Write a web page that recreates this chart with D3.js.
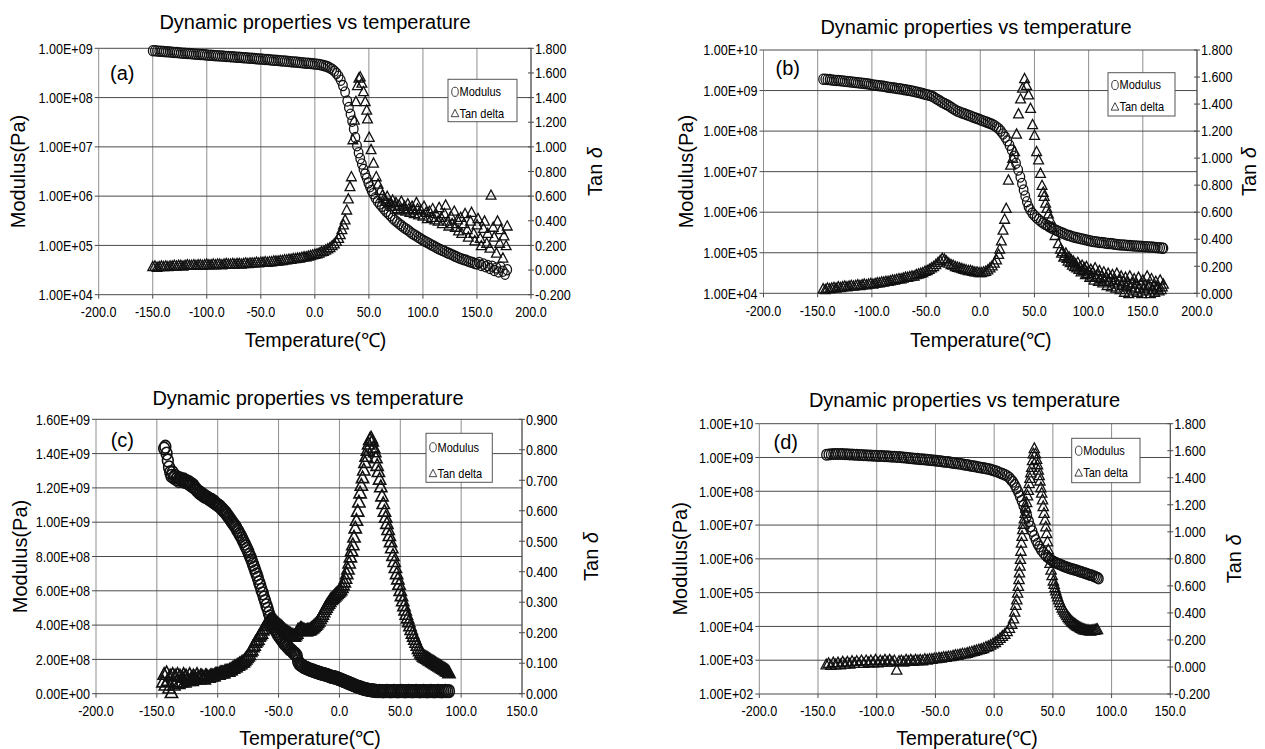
<!DOCTYPE html>
<html>
<head>
<meta charset="utf-8">
<script src="https://cdn.jsdelivr.net/npm/d3@7"></script>
<style>
  body { margin: 0; background: #fff; }
  svg text { font-family: "Liberation Sans", Arial, sans-serif; fill: #000; }
</style>
</head>
<body>
<svg id="fig" width="1265" height="749"></svg>
<script>
// ---------- tick values ----------
const tempTicksWide = [-200, -150, -100, -50, 0, 50, 100, 150, 200];
const tempTicksNarrow = [-200, -150, -100, -50, 0, 50, 100, 150];
const modTicksA = [1e4, 1e5, 1e6, 1e7, 1e8, 1e9];
const modTicksB = [1e4, 1e5, 1e6, 1e7, 1e8, 1e9, 1e10];
const modTicksC = [0, 2e8, 4e8, 6e8, 8e8, 1e9, 1.2e9, 1.4e9, 1.6e9];
const modTicksD = [1e2, 1e3, 1e4, 1e5, 1e6, 1e7, 1e8, 1e9, 1e10];
const tanTicksA = [-0.2, 0, 0.2, 0.4, 0.6, 0.8, 1.0, 1.2, 1.4, 1.6, 1.8];
const tanTicksB = [0, 0.2, 0.4, 0.6, 0.8, 1.0, 1.2, 1.4, 1.6, 1.8];
const tanTicksC = [0, 0.1, 0.2, 0.3, 0.4, 0.5, 0.6, 0.7, 0.8, 0.9];
const tanTicksD = [-0.2, 0, 0.2, 0.4, 0.6, 0.8, 1.0, 1.2, 1.4, 1.6, 1.8];

// ---------- sample (a): [temperature °C, value] ----------
const modulusA = [[-150,8.9e8],[-148,8.9e8],[-146,8.8e8],[-144,8.7e8],[-142,8.7e8],[-140,8.6e8],[-138,8.5e8],[-136,8.5e8],[-134,8.4e8],[-132,8.3e8],[-130,8.2e8],[-128,8.2e8],[-126,8.1e8],[-124,8.0e8],[-122,7.95e8],[-120,7.9e8],[-118,7.85e8],[-116,7.8e8],[-114,7.75e8],[-112,7.7e8],[-110,7.6e8],[-108,7.55e8],[-106,7.5e8],[-104,7.45e8],[-102,7.4e8],[-100,7.3e8],[-98,7.25e8],[-96,7.2e8],[-94,7.15e8],[-92,7.1e8],[-90,7.05e8],[-88,7.0e8],[-86,6.95e8],[-84,6.9e8],[-82,6.85e8],[-80,6.8e8],[-78,6.75e8],[-76,6.7e8],[-74,6.65e8],[-72,6.6e8],[-70,6.55e8],[-68,6.5e8],[-66,6.45e8],[-64,6.4e8],[-62,6.35e8],[-60,6.3e8],[-58,6.25e8],[-56,6.2e8],[-54,6.15e8],[-52,6.1e8],[-50,6.05e8],[-48,6.0e8],[-46,5.95e8],[-44,5.9e8],[-42,5.85e8],[-40,5.8e8],[-38,5.75e8],[-36,5.7e8],[-34,5.65e8],[-32,5.6e8],[-30,5.55e8],[-28,5.5e8],[-26,5.45e8],[-24,5.4e8],[-22,5.35e8],[-20,5.3e8],[-18,5.25e8],[-16,5.2e8],[-14,5.15e8],[-12,5.1e8],[-10,5.05e8],[-8,5.0e8],[-6,4.95e8],[-4,4.9e8],[-2,4.85e8],[0,4.8e8],[2,4.75e8],[4,4.7e8],[6,4.6e8],[8,4.5e8],[10,4.35e8],[12,4.2e8],[14,4.0e8],[16,3.75e8],[18,3.45e8],[20,3.1e8],[22,2.7e8],[24,2.25e8],[26,1.75e8],[28,1.3e8],[30,8.5e7],[31.5,6.3e7],[33,4.6e7],[34.5,3.3e7],[36,2.3e7],[37.5,1.55e7],[39,1.05e7],[40.5,7.6e6],[42,5.8e6],[43.5,4.5e6],[45,3.5e6],[46.5,2.8e6],[48,2.3e6],[49.5,1.86e6],[51,1.55e6],[52.5,1.3e6],[54,1.12e6],[56,9.3e5],[58,7.9e5],[60,6.9e5],[62,6.2e5],[64,5.5e5],[66,4.9e5],[68,4.45e5],[70,4.0e5],[72,3.55e5],[74,3.25e5],[76,3.0e5],[78,2.75e5],[80,2.55e5],[82,2.35e5],[84,2.19e5],[86,2.05e5],[88,1.9e5],[90,1.74e5],[92,1.65e5],[94,1.55e5],[96,1.45e5],[98,1.36e5],[100,1.28e5],[102,1.2e5],[104,1.15e5],[106,1.08e5],[108,1.02e5],[110,9.7e4],[112,9.2e4],[114,8.7e4],[116,8.3e4],[118,7.9e4],[120,7.6e4],[122,7.2e4],[124,6.9e4],[126,6.6e4],[128,6.3e4],[130,6.0e4],[132,5.75e4],[134,5.5e4],[136,5.3e4],[138,5.1e4],[140,5.0e4],[142,4.8e4],[144,4.6e4],[146,4.5e4],[148,4.3e4],[150,4.2e4],[152,4.5e4],[154,3.9e4],[156,4.2e4],[158,3.7e4],[160,3.9e4],[162,3.4e4],[164,3.8e4],[166,3.1e4],[168,3.5e4],[170,2.9e4],[172,3.6e4],[174,3.0e4],[176,2.6e4],[178,3.2e4]];
const tanDeltaA = [[-150,0.03],[-148,0.035],[-146,0.025],[-144,0.03],[-142,0.035],[-140,0.03],[-138,0.035],[-136,0.03],[-134,0.035],[-132,0.035],[-130,0.04],[-128,0.035],[-126,0.04],[-124,0.04],[-122,0.035],[-120,0.04],[-118,0.045],[-116,0.04],[-114,0.04],[-112,0.045],[-110,0.04],[-108,0.045],[-106,0.045],[-104,0.04],[-102,0.045],[-100,0.05],[-98,0.045],[-96,0.045],[-94,0.05],[-92,0.045],[-90,0.05],[-88,0.05],[-86,0.045],[-84,0.05],[-82,0.055],[-80,0.05],[-78,0.05],[-76,0.055],[-74,0.05],[-72,0.055],[-70,0.055],[-68,0.05],[-66,0.055],[-64,0.06],[-62,0.055],[-60,0.06],[-58,0.06],[-56,0.06],[-54,0.065],[-52,0.06],[-50,0.065],[-48,0.065],[-46,0.07],[-44,0.065],[-42,0.07],[-40,0.07],[-38,0.075],[-36,0.075],[-34,0.075],[-32,0.08],[-30,0.08],[-28,0.085],[-26,0.085],[-24,0.09],[-22,0.09],[-20,0.095],[-18,0.095],[-16,0.1],[-14,0.1],[-12,0.105],[-10,0.11],[-8,0.11],[-6,0.115],[-4,0.12],[-2,0.125],[0,0.13],[2,0.135],[4,0.14],[6,0.15],[8,0.155],[10,0.165],[12,0.175],[14,0.185],[16,0.2],[18,0.215],[20,0.235],[22,0.26],[23.5,0.29],[25,0.33],[26.5,0.37],[28,0.41],[29.5,0.49],[31,0.58],[32.5,0.68],[33.8,0.76],[35.2,1.06],[36.6,1.22],[38,1.37],[39.4,1.5],[40.8,1.56],[42,1.57],[43.5,1.52],[45,1.45],[46.6,1.37],[48,1.3],[48.7,1.23],[50.3,1.08],[52,0.98],[54.3,0.87],[56.8,0.76],[58.5,0.7],[60.5,0.65],[62.5,0.61],[64,0.58],[66,0.56],[67,0.6],[68,0.54],[70,0.55],[71,0.52],[72,0.57],[74,0.52],[75,0.55],[76,0.5],[78,0.53],[79,0.49],[80,0.56],[82,0.5],[83,0.52],[84,0.48],[86,0.54],[87,0.5],[88,0.47],[90,0.52],[91,0.49],[92,0.46],[94,0.55],[95,0.5],[96,0.45],[98,0.49],[100,0.44],[101,0.52],[103,0.47],[104,0.42],[106,0.48],[108,0.43],[109,0.5],[111,0.41],[112,0.46],[114,0.4],[115,0.51],[117,0.43],[118,0.38],[120,0.46],[121,0.53],[123,0.4],[124,0.36],[126,0.44],[127,0.38],[129,0.48],[130,0.35],[132,0.41],[133,0.32],[135,0.43],[136,0.3],[138,0.38],[139,0.46],[141,0.33],[142,0.27],[144,0.4],[145,0.47],[147,0.3],[148,0.24],[150,0.37],[151,0.42],[153,0.26],[154,0.2],[156,0.34],[157,0.4],[159,0.22],[160,0.3],[162,0.18],[163,0.61],[165,0.35],[166,0.27],[168,0.14],[169,0.4],[171,0.22],[172,0.33],[174,0.1],[175,0.28],[177,0.2],[178,0.36]];

// ---------- sample (b) ----------
const modulusB = [[-145,1.9e9],[-143,1.9e9],[-141,1.88e9],[-139,1.86e9],[-137,1.83e9],[-135,1.8e9],[-133,1.78e9],[-131,1.76e9],[-129,1.74e9],[-127,1.72e9],[-125,1.7e9],[-123,1.67e9],[-121,1.64e9],[-119,1.62e9],[-117,1.6e9],[-115,1.58e9],[-113,1.56e9],[-111,1.53e9],[-109,1.51e9],[-107,1.49e9],[-105,1.47e9],[-103,1.45e9],[-101,1.41e9],[-99,1.38e9],[-97,1.36e9],[-95,1.34e9],[-93,1.32e9],[-91,1.3e9],[-89,1.27e9],[-87,1.24e9],[-85,1.21e9],[-83,1.19e9],[-81,1.17e9],[-79,1.15e9],[-77,1.13e9],[-75,1.11e9],[-73,1.09e9],[-71,1.06e9],[-69,1.04e9],[-67,1.02e9],[-65,1.0e9],[-63,9.7e8],[-61,9.5e8],[-59,9.2e8],[-57,9.0e8],[-55,8.7e8],[-53,8.4e8],[-51,8.1e8],[-49,7.9e8],[-47,7.7e8],[-45,7.3e8],[-43,6.9e8],[-41,6.4e8],[-39,5.9e8],[-37,5.5e8],[-35,5.1e8],[-33,4.8e8],[-31,4.5e8],[-29,4.2e8],[-27,3.9e8],[-25,3.55e8],[-23,3.3e8],[-21,3.1e8],[-19,2.95e8],[-17,2.8e8],[-15,2.7e8],[-13,2.57e8],[-11,2.45e8],[-9,2.35e8],[-7,2.24e8],[-5,2.14e8],[-3,2.04e8],[-1,1.95e8],[1,1.86e8],[3,1.78e8],[5,1.7e8],[7,1.62e8],[9,1.55e8],[11,1.48e8],[13,1.38e8],[15,1.26e8],[17,1.15e8],[19,1.0e8],[21,8.5e7],[23,7.1e7],[25,5.75e7],[27,4.5e7],[29,3.4e7],[31,2.4e7],[33,1.62e7],[35,1.1e7],[37,7.4e6],[38.5,5.1e6],[40,3.55e6],[41.5,2.5e6],[43,1.82e6],[44.5,1.38e6],[46,1.15e6],[48,9.5e5],[50,8.3e5],[52,7.3e5],[54,6.6e5],[56,5.9e5],[58,5.45e5],[60,5.0e5],[62,4.7e5],[64,4.35e5],[66,4.05e5],[68,3.8e5],[70,3.6e5],[72,3.4e5],[74,3.2e5],[76,3.05e5],[78,2.9e5],[80,2.75e5],[82,2.65e5],[84,2.55e5],[86,2.45e5],[88,2.38e5],[90,2.3e5],[92,2.24e5],[94,2.18e5],[96,2.12e5],[98,2.06e5],[100,2.0e5],[102,1.95e5],[104,1.9e5],[106,1.88e5],[108,1.84e5],[110,1.8e5],[112,1.78e5],[114,1.76e5],[116,1.72e5],[118,1.7e5],[120,1.68e5],[122,1.66e5],[124,1.63e5],[126,1.6e5],[128,1.58e5],[130,1.56e5],[132,1.55e5],[134,1.53e5],[136,1.51e5],[138,1.5e5],[140,1.48e5],[142,1.47e5],[144,1.46e5],[146,1.45e5],[148,1.44e5],[150,1.43e5],[152,1.41e5],[154,1.4e5],[156,1.39e5],[158,1.38e5],[160,1.36e5],[162,1.35e5],[164,1.33e5],[166,1.32e5],[168,1.3e5],[169,1.29e5]];
const tanDeltaB = [[-145,0.035],[-143,0.03],[-141,0.04],[-139,0.035],[-137,0.04],[-135,0.045],[-133,0.04],[-131,0.05],[-129,0.045],[-127,0.05],[-125,0.055],[-123,0.05],[-121,0.055],[-119,0.06],[-117,0.055],[-115,0.06],[-113,0.065],[-111,0.06],[-109,0.065],[-107,0.07],[-105,0.065],[-103,0.07],[-101,0.075],[-99,0.07],[-97,0.075],[-95,0.08],[-93,0.08],[-91,0.085],[-89,0.085],[-87,0.09],[-85,0.09],[-83,0.095],[-81,0.1],[-79,0.1],[-77,0.105],[-75,0.11],[-73,0.11],[-71,0.115],[-69,0.12],[-67,0.12],[-65,0.125],[-63,0.13],[-61,0.13],[-59,0.14],[-57,0.145],[-55,0.15],[-53,0.155],[-51,0.165],[-49,0.17],[-47,0.18],[-45,0.19],[-43,0.2],[-41,0.215],[-39,0.23],[-37,0.245],[-35,0.26],[-33,0.255],[-31,0.24],[-29,0.225],[-27,0.215],[-25,0.21],[-23,0.2],[-21,0.195],[-19,0.19],[-17,0.185],[-15,0.18],[-13,0.175],[-11,0.17],[-9,0.17],[-7,0.165],[-5,0.16],[-3,0.16],[-1,0.155],[1,0.155],[3,0.16],[5,0.165],[7,0.175],[9,0.19],[11,0.205],[13,0.225],[15,0.25],[17,0.29],[18,0.33],[19.5,0.39],[21,0.47],[22.5,0.55],[24,0.63],[26,0.84],[28,0.95],[30,1.0],[31.7,1.05],[33.5,1.18],[35.3,1.33],[37.2,1.44],[39,1.52],[40.9,1.59],[42.7,1.54],[44.6,1.47],[46.4,1.37],[48.3,1.25],[50.1,1.17],[52,1.05],[53.8,0.99],[55.6,0.89],[57,0.8],[58.1,0.75],[59,0.72],[60.3,0.67],[61.5,0.63],[62.9,0.59],[64.5,0.55],[66.6,0.49],[69,0.43],[72,0.37],[74,0.33],[75,0.3],[76,0.31],[77,0.27],[78,0.28],[79,0.3],[80,0.26],[81,0.24],[82,0.27],[83,0.23],[84,0.25],[85,0.21],[86,0.24],[87,0.2],[88,0.22],[89,0.19],[90,0.23],[91,0.18],[92,0.2],[93,0.16],[94,0.21],[95,0.17],[96,0.19],[97,0.14],[98,0.2],[99,0.15],[100,0.17],[101,0.12],[102,0.18],[103,0.13],[104,0.16],[105,0.1],[106,0.19],[107,0.12],[108,0.14],[109,0.09],[110,0.17],[111,0.11],[112,0.13],[113,0.08],[114,0.16],[115,0.1],[116,0.12],[117,0.06],[118,0.15],[119,0.09],[120,0.12],[121,0.05],[122,0.14],[123,0.08],[124,0.1],[125,0.04],[126,0.15],[127,0.07],[128,0.1],[129,0.03],[130,0.13],[131,0.06],[132,0.09],[133,0.01],[134,0.12],[135,0.05],[136,0.08],[137,0.0],[138,0.13],[139,0.05],[140,0.08],[141,0.02],[142,0.11],[143,0.04],[144,0.07],[145,0.01],[146,0.12],[147,0.04],[148,0.07],[149,0.0],[150,0.1],[151,0.04],[152,0.06],[153,0.02],[154,0.13],[155,0.05],[156,0.06],[157,0.0],[158,0.11],[159,0.03],[160,0.06],[161,0.01],[162,0.09],[163,0.04],[164,0.05],[165,0.02],[166,0.1],[167,0.03],[168,0.05],[169,0.07]];

// ---------- sample (c) ----------
const modulusC = [[-144,14.3e8],[-143,14.4e8],[-142,14.0e8],[-141,13.6e8],[-140,13.2e8],[-139,12.9e8],[-138,12.7e8],[-137,12.9e8],[-136,12.6e8],[-135,12.7e8],[-134,12.5e8],[-133,12.6e8],[-132,12.4e8],[-131,12.55e8],[-130,12.5e8],[-129,12.4e8],[-128,12.5e8],[-127,12.35e8],[-126,12.4e8],[-125,12.3e8],[-124,12.35e8],[-123,12.2e8],[-122,12.25e8],[-121,12.1e8],[-120,12.15e8],[-119,12.0e8],[-118,11.95e8],[-117,11.85e8],[-116,11.8e8],[-115,11.7e8],[-114,11.7e8],[-113,11.6e8],[-112,11.6e8],[-111,11.5e8],[-110,11.5e8],[-109,11.45e8],[-108,11.4e8],[-107,11.35e8],[-106,11.3e8],[-105,11.3e8],[-104,11.2e8],[-103,11.2e8],[-102,11.1e8],[-101,11.05e8],[-100,11.0e8],[-99,10.95e8],[-98,10.9e8],[-97,10.8e8],[-96,10.75e8],[-95,10.65e8],[-94,10.6e8],[-93,10.5e8],[-92,10.4e8],[-91,10.3e8],[-90,10.2e8],[-89,10.1e8],[-88,10.0e8],[-87,9.9e8],[-86,9.8e8],[-85,9.7e8],[-84,9.55e8],[-83,9.45e8],[-82,9.3e8],[-81,9.2e8],[-80,9.05e8],[-79,8.9e8],[-78,8.75e8],[-77,8.6e8],[-76,8.45e8],[-75,8.3e8],[-74,8.1e8],[-73,7.95e8],[-72,7.75e8],[-71,7.55e8],[-70,7.35e8],[-69,7.15e8],[-68,6.95e8],[-67,6.75e8],[-66,6.5e8],[-65,6.3e8],[-64,6.05e8],[-63,5.85e8],[-62,5.6e8],[-61,5.4e8],[-60,5.15e8],[-59,4.95e8],[-58,4.7e8],[-57,4.5e8],[-56,4.3e8],[-55,4.1e8],[-54,3.95e8],[-53,3.8e8],[-52,3.65e8],[-51,3.5e8],[-50,3.4e8],[-49,3.3e8],[-48,3.2e8],[-47,3.1e8],[-46,3.0e8],[-45,2.9e8],[-44,2.85e8],[-43,2.75e8],[-42,2.7e8],[-41,2.6e8],[-40,2.55e8],[-39,2.5e8],[-38,2.4e8],[-37,2.35e8],[-36,2.3e8],[-35,2.2e8],[-34,1.9e8],[-33,1.75e8],[-32,1.7e8],[-31,1.65e8],[-30,1.6e8],[-29,1.55e8],[-28,1.52e8],[-27,1.5e8],[-26,1.45e8],[-25,1.42e8],[-24,1.4e8],[-23,1.37e8],[-22,1.35e8],[-21,1.32e8],[-20,1.3e8],[-19,1.27e8],[-18,1.25e8],[-17,1.22e8],[-16,1.2e8],[-15,1.18e8],[-14,1.16e8],[-13,1.14e8],[-12,1.12e8],[-11,1.1e8],[-10,1.08e8],[-9,1.05e8],[-8,1.02e8],[-7,1.0e8],[-6,0.98e8],[-5,0.96e8],[-4,0.95e8],[-3,0.93e8],[-2,0.9e8],[-1,0.88e8],[0,0.85e8],[1,0.82e8],[2,0.79e8],[3,0.76e8],[4,0.73e8],[5,0.7e8],[6,0.67e8],[7,0.64e8],[8,0.61e8],[9,0.58e8],[10,0.55e8],[11,0.52e8],[12,0.49e8],[13,0.46e8],[14,0.43e8],[15,0.41e8],[16,0.38e8],[17,0.36e8],[18,0.33e8],[19,0.31e8],[20,0.29e8],[21,0.27e8],[22,0.25e8],[23,0.24e8],[24,0.22e8],[25,0.21e8],[26,0.2e8],[27,0.19e8],[28,0.18e8],[29,0.17e8],[30,0.16e8],[31.5,0.15e8],[33,0.16e8],[34.5,0.15e8],[36,0.14e8],[37.5,0.15e8],[39,0.16e8],[40.5,0.15e8],[42,0.14e8],[43.5,0.15e8],[45,0.16e8],[46.5,0.15e8],[48,0.14e8],[49.5,0.15e8],[51,0.16e8],[52.5,0.15e8],[54,0.14e8],[55.5,0.15e8],[57,0.16e8],[58.5,0.15e8],[60,0.14e8],[61.5,0.15e8],[63,0.16e8],[64.5,0.15e8],[66,0.14e8],[67.5,0.15e8],[69,0.16e8],[70.5,0.15e8],[72,0.14e8],[73.5,0.15e8],[75,0.16e8],[76.5,0.15e8],[78,0.14e8],[79.5,0.15e8],[81,0.16e8],[82.5,0.15e8],[84,0.14e8],[85.5,0.15e8],[87,0.16e8],[88.5,0.15e8],[90,0.15e8]];
const tanDeltaC = [[-145,0.04],[-144,0.065],[-143,0.03],[-142,0.07],[-141,0.045],[-140,0.02],[-139,0.06],[-138,0.005],[-137,0.065],[-136,0.03],[-135,0.06],[-134,0.04],[-133,0.065],[-132,0.035],[-131,0.06],[-130,0.04],[-129,0.055],[-128,0.065],[-127,0.04],[-126,0.06],[-125,0.05],[-124,0.045],[-123,0.065],[-122,0.05],[-121,0.045],[-120,0.06],[-119,0.055],[-118,0.05],[-117,0.065],[-116,0.055],[-115,0.05],[-114,0.06],[-113,0.06],[-112,0.055],[-111,0.05],[-110,0.06],[-109,0.06],[-108,0.055],[-107,0.055],[-106,0.06],[-105,0.06],[-104,0.06],[-103,0.06],[-102,0.065],[-101,0.065],[-100,0.065],[-99,0.065],[-98,0.07],[-97,0.07],[-96,0.07],[-95,0.07],[-94,0.075],[-93,0.075],[-92,0.075],[-91,0.075],[-90,0.08],[-89,0.08],[-88,0.085],[-87,0.085],[-86,0.09],[-85,0.09],[-84,0.095],[-83,0.095],[-82,0.1],[-81,0.1],[-80,0.105],[-79,0.105],[-78,0.11],[-77,0.115],[-76,0.12],[-75,0.125],[-74,0.13],[-73,0.14],[-72,0.145],[-71,0.155],[-70,0.16],[-69,0.17],[-68,0.175],[-67,0.18],[-66,0.19],[-65,0.195],[-64,0.2],[-63,0.21],[-62,0.215],[-61,0.225],[-60,0.23],[-59,0.235],[-58,0.24],[-57,0.245],[-56,0.245],[-55,0.245],[-54,0.243],[-53,0.24],[-52,0.236],[-51,0.232],[-50,0.228],[-49,0.225],[-48,0.222],[-47,0.218],[-46,0.214],[-45,0.21],[-44,0.207],[-43,0.204],[-42,0.2],[-41,0.198],[-40,0.196],[-39,0.194],[-38,0.192],[-37,0.19],[-36,0.195],[-35,0.2],[-34,0.21],[-33,0.21],[-32,0.215],[-31,0.215],[-30,0.212],[-29,0.21],[-28,0.208],[-27,0.208],[-26,0.21],[-25,0.21],[-24,0.212],[-23,0.215],[-22,0.218],[-21,0.222],[-20,0.226],[-19,0.23],[-18,0.235],[-17,0.24],[-16,0.248],[-15,0.255],[-14,0.262],[-13,0.27],[-12,0.278],[-11,0.285],[-10,0.292],[-9,0.298],[-8,0.304],[-7,0.31],[-6,0.314],[-5,0.318],[-4,0.322],[-3,0.326],[-2,0.33],[-1,0.334],[0,0.338],[1,0.342],[2,0.35],[3,0.358],[4,0.368],[5,0.38],[6,0.395],[7,0.41],[8,0.43],[9,0.45],[10,0.47],[11,0.49],[12,0.515],[13,0.545],[14,0.57],[15,0.6],[16,0.63],[17,0.66],[18,0.685],[19,0.71],[20,0.735],[21,0.76],[22,0.78],[23,0.8],[24,0.82],[25,0.835],[26,0.84],[27,0.83],[28,0.81],[29,0.795],[30,0.775],[31,0.75],[32,0.73],[33,0.705],[34,0.68],[35,0.65],[36,0.625],[37,0.6],[38,0.58],[39,0.56],[40,0.54],[41,0.52],[42,0.5],[43,0.48],[44,0.455],[45,0.435],[46,0.415],[47,0.395],[48,0.378],[49,0.36],[50,0.34],[51,0.323],[52,0.306],[53,0.29],[54,0.276],[55,0.262],[56,0.25],[57,0.237],[58,0.224],[59,0.212],[60,0.2],[61,0.19],[62,0.18],[63,0.17],[64,0.16],[65,0.15],[66,0.142],[67,0.135],[68,0.13],[69,0.125],[70,0.122],[71,0.12],[72,0.118],[73,0.115],[74,0.112],[75,0.11],[76,0.107],[77,0.105],[78,0.102],[79,0.1],[80,0.097],[81,0.095],[82,0.092],[83,0.09],[84,0.087],[85,0.085],[86,0.082],[87,0.08],[88,0.077],[89,0.075],[90,0.07]];

// ---------- sample (d) ----------
const modulusD = [[-143,1.2e9],[-141,1.22e9],[-139,1.24e9],[-137,1.26e9],[-135,1.26e9],[-133,1.27e9],[-131,1.26e9],[-129,1.26e9],[-127,1.25e9],[-125,1.24e9],[-123,1.23e9],[-121,1.22e9],[-119,1.21e9],[-117,1.2e9],[-115,1.19e9],[-113,1.18e9],[-111,1.17e9],[-109,1.16e9],[-107,1.15e9],[-105,1.14e9],[-103,1.13e9],[-101,1.12e9],[-99,1.11e9],[-97,1.1e9],[-95,1.1e9],[-93,1.09e9],[-91,1.08e9],[-89,1.07e9],[-87,1.06e9],[-85,1.05e9],[-83,1.04e9],[-81,1.03e9],[-79,1.01e9],[-77,1.0e9],[-75,9.9e8],[-73,9.7e8],[-71,9.5e8],[-69,9.4e8],[-67,9.2e8],[-65,9.1e8],[-63,8.9e8],[-61,8.8e8],[-59,8.7e8],[-57,8.6e8],[-55,8.4e8],[-53,8.3e8],[-51,8.2e8],[-49,8.0e8],[-47,7.9e8],[-45,7.7e8],[-43,7.5e8],[-41,7.4e8],[-39,7.3e8],[-37,7.1e8],[-35,6.9e8],[-33,6.8e8],[-31,6.6e8],[-29,6.5e8],[-27,6.3e8],[-25,6.1e8],[-23,6.0e8],[-21,5.8e8],[-19,5.6e8],[-17,5.5e8],[-15,5.3e8],[-13,5.15e8],[-11,5.0e8],[-9,4.85e8],[-7,4.7e8],[-5,4.6e8],[-3,4.4e8],[-1,4.2e8],[1,4.0e8],[3,3.75e8],[5,3.5e8],[7,3.3e8],[9,3.1e8],[11,2.85e8],[13,2.5e8],[14.5,2.15e8],[16,1.9e8],[17.5,1.55e8],[19,1.23e8],[20.5,9.5e7],[22,7.1e7],[23.5,5.25e7],[25,3.8e7],[26.5,2.7e7],[28,1.86e7],[29.5,1.29e7],[31,9.1e6],[32.5,6.6e6],[34,4.8e6],[35.5,3.6e6],[37,2.8e6],[38.5,2.3e6],[40,1.86e6],[42,1.51e6],[44,1.26e6],[46,1.1e6],[47.5,9.9e5],[49,9.0e5],[50.5,8.3e5],[52,7.8e5],[53.5,7.35e5],[55,7.0e5],[56.5,6.7e5],[58,6.3e5],[59.5,6.0e5],[61,5.75e5],[62.5,5.5e5],[64,5.25e5],[65.5,5.1e5],[67,4.9e5],[68.5,4.75e5],[70,4.6e5],[71.5,4.4e5],[73,4.2e5],[74.5,4.05e5],[76,3.9e5],[77.5,3.75e5],[79,3.6e5],[80.5,3.45e5],[82,3.3e5],[83.5,3.2e5],[85,3.05e5],[86.5,2.9e5],[88,2.75e5],[89,2.6e5]];
const tanDeltaD = [[-143,0.02],[-141,0.03],[-139,0.015],[-137,0.035],[-135,0.02],[-133,0.035],[-131,0.02],[-129,0.04],[-127,0.025],[-125,0.04],[-123,0.025],[-121,0.045],[-119,0.03],[-117,0.045],[-115,0.03],[-113,0.05],[-111,0.03],[-109,0.05],[-107,0.035],[-105,0.05],[-103,0.035],[-101,0.055],[-99,0.035],[-97,0.05],[-95,0.04],[-93,0.055],[-91,0.04],[-89,0.055],[-87,0.04],[-85,0.05],[-83,-0.02],[-81,0.045],[-79,0.05],[-77,0.04],[-75,0.055],[-73,0.045],[-71,0.055],[-69,0.045],[-67,0.055],[-65,0.05],[-63,0.055],[-61,0.05],[-59,0.06],[-57,0.055],[-55,0.06],[-53,0.06],[-51,0.065],[-49,0.065],[-47,0.07],[-45,0.07],[-43,0.075],[-41,0.075],[-39,0.08],[-37,0.08],[-35,0.085],[-33,0.09],[-31,0.09],[-29,0.095],[-27,0.1],[-25,0.1],[-23,0.105],[-21,0.11],[-19,0.115],[-17,0.12],[-15,0.125],[-13,0.13],[-11,0.135],[-9,0.14],[-7,0.15],[-5,0.155],[-3,0.165],[-1,0.175],[1,0.185],[3,0.2],[5,0.215],[7,0.23],[9,0.245],[11,0.265],[13,0.29],[15,0.32],[16.5,0.36],[17.5,0.41],[18.5,0.46],[19.3,0.5],[20,0.55],[20.6,0.6],[21.2,0.65],[21.6,0.7],[22,0.75],[22.4,0.8],[22.8,0.86],[23.3,0.92],[23.8,0.97],[24.4,1.02],[25,1.06],[25.7,1.1],[26.4,1.14],[27,1.18],[27.7,1.22],[28.4,1.27],[29.1,1.31],[29.8,1.36],[30.5,1.4],[31.2,1.44],[32,1.48],[32.7,1.53],[33.3,1.58],[34.2,1.62],[35.2,1.58],[36.2,1.54],[36.9,1.5],[37.6,1.46],[38.3,1.42],[39,1.38],[39.8,1.33],[40.5,1.29],[41.2,1.24],[41.8,1.19],[42.5,1.14],[43.3,1.09],[44,1.04],[44.7,0.99],[45.4,0.93],[46.1,0.87],[46.8,0.82],[47.6,0.77],[48.5,0.72],[49.4,0.68],[50.4,0.64],[51.1,0.615],[51.8,0.59],[52.5,0.567],[53.3,0.545],[54.1,0.522],[55,0.5],[56,0.48],[57,0.46],[58,0.44],[59,0.425],[60,0.41],[61,0.396],[62,0.383],[63,0.37],[64,0.36],[65,0.35],[66,0.34],[67,0.332],[68,0.325],[69,0.318],[70,0.31],[71,0.305],[72,0.3],[73,0.295],[74,0.29],[75,0.285],[76,0.28],[77,0.278],[78,0.276],[79,0.275],[80,0.273],[81,0.272],[82,0.27],[83,0.272],[84,0.274],[85,0.275],[86,0.277],[87,0.28],[88,0.28]];

// ---------- panel layout ----------
const panels = [
  { tag: "(a)", modulus: modulusA, tanDelta: tanDeltaA, xTicks: tempTicksWide, modTicks: modTicksA, tanTicks: tanTicksA, log: true,
    box: { x0: 98.7, x1: 531, y0: 48.3, y1: 294.7 }, title: [315, 21.7], tagPos: [110, 73], mark: 1, stroke: 1.3,
    xTitle: [315.5, 340], yTitleX: 18, tanTitleX: 595, legend: { x: 448, y: 79.3, w: 69, h: 42.4, r1: 12.5, r2: 34 } },
  { tag: "(b)", modulus: modulusB, tanDelta: tanDeltaB, xTicks: tempTicksWide, modTicks: modTicksB, tanTicks: tanTicksB, log: true,
    box: { x0: 763.5, x1: 1197, y0: 50, y1: 293.3 }, title: [976, 26.7], tagPos: [775.5, 68], mark: 1, stroke: 1.3,
    xTitle: [980.8, 340], yTitleX: 686, tanTitleX: 1249, legend: { x: 1108, y: 72.7, w: 67, h: 43.3, r1: 12.3, r2: 34 } },
  { tag: "(c)", modulus: modulusC, tanDelta: tanDeltaC, xTicks: tempTicksNarrow, modTicks: modTicksC, tanTicks: tanTicksC, log: false,
    box: { x0: 96, x1: 522, y0: 419.3, y1: 693.7 }, title: [308, 398], tagPos: [110.7, 440], mark: 1.25, stroke: 1.6,
    xTitle: [310, 738], yTitleX: 20, tanTitleX: 591, legend: { x: 426, y: 433.3, w: 66.3, h: 49, r1: 14, r2: 40 } },
  { tag: "(d)", modulus: modulusD, tanDelta: tanDeltaD, xTicks: tempTicksNarrow, modTicks: modTicksD, tanTicks: tanTicksD, log: true,
    box: { x0: 759.3, x1: 1170.3, y0: 423.7, y1: 694 }, title: [964.5, 400], tagPos: [773.5, 441.7], mark: 1.05, stroke: 1.3,
    xTitle: [967, 738], yTitleX: 680, tanTitleX: 1234, legend: { x: 1071.7, y: 438.3, w: 68.3, h: 44.4, r1: 12.4, r2: 34.4 } }
];

const svg = d3.select("#fig");
const INK = "#111";
const H_GRID = "#4a4a4a";
const V_GRID = "#8f8f8f";

// text placed by its visual centre line, optionally narrowed horizontally
function label(parent, x, y, str, size, anchor, sx) {
  return parent.append("text")
    .attr("transform", `translate(${x},${y + size * 0.35}) scale(${sx || 1},1)`)
    .attr("font-size", size)
    .attr("text-anchor", anchor || "start")
    .text(str);
}

function sci(v) {
  const [m, e] = v.toExponential(2).split("e");
  const sign = e[0] === "-" ? "-" : "+";
  const digits = e.replace(/^[+-]/, "").padStart(2, "0");
  return m + "E" + sign + digits;
}

const TRI_SMALL = "M0,-4L3.8,3.4L-3.8,3.4Z";
const TICK_SIZE = 15, TICK_SX = 0.84;

panels.forEach(p => {
  const b = p.box;
  const g = svg.append("g");

  const x = d3.scaleLinear().domain([p.xTicks[0], p.xTicks[p.xTicks.length - 1]]).range([b.x0, b.x1]);
  const yMod = (p.log ? d3.scaleLog() : d3.scaleLinear())
    .domain([p.modTicks[0], p.modTicks[p.modTicks.length - 1]]).range([b.y1, b.y0]);
  const yTan = d3.scaleLinear()
    .domain([p.tanTicks[0], p.tanTicks[p.tanTicks.length - 1]]).range([b.y1, b.y0]);

  // vertical grid
  g.selectAll(".vg").data(p.xTicks).join("line")
    .attr("x1", d => x(d)).attr("x2", d => x(d))
    .attr("y1", b.y0).attr("y2", b.y1)
    .attr("stroke", V_GRID).attr("stroke-width", 1);

  // horizontal grid from the modulus axis
  g.selectAll(".hg").data(p.modTicks).join("line")
    .attr("x1", b.x0).attr("x2", b.x1)
    .attr("y1", d => yMod(d)).attr("y2", d => yMod(d))
    .attr("stroke", H_GRID).attr("stroke-width", 1);

  // right axis line
  g.append("line").attr("x1", b.x1).attr("x2", b.x1).attr("y1", b.y0).attr("y2", b.y1)
    .attr("stroke", H_GRID).attr("stroke-width", 1);

  // tick marks
  g.selectAll(".lt").data(p.modTicks).join("line")
    .attr("x1", b.x0 - 4).attr("x2", b.x0)
    .attr("y1", d => yMod(d)).attr("y2", d => yMod(d))
    .attr("stroke", H_GRID);
  g.selectAll(".bt").data(p.xTicks).join("line")
    .attr("x1", d => x(d)).attr("x2", d => x(d))
    .attr("y1", b.y1).attr("y2", b.y1 + 4)
    .attr("stroke", H_GRID);
  g.selectAll(".rt").data(p.tanTicks).join("line")
    .attr("x1", b.x1 - 3).attr("x2", b.x1 + 3)
    .attr("y1", d => yTan(d)).attr("y2", d => yTan(d))
    .attr("stroke", H_GRID);

  // tick labels
  p.modTicks.forEach(t => label(g, b.x0 - 6, yMod(t), sci(t), TICK_SIZE, "end", TICK_SX));
  p.xTicks.forEach(t => label(g, x(t), b.y1 + 17, t.toFixed(1), TICK_SIZE, "middle", TICK_SX));
  p.tanTicks.forEach(t => label(g, b.x1 + 4, yTan(t), t.toFixed(3), TICK_SIZE, "start", TICK_SX));

  // titles
  label(g, p.title[0], p.title[1], "Dynamic properties vs temperature", 20, "middle");
  label(g, p.xTitle[0], p.xTitle[1], "Temperature(\u2103)", 19.5, "middle");
  const yc = (b.y0 + b.y1) / 2;
  g.append("text")
    .attr("transform", `translate(${p.yTitleX + 7},${yc}) rotate(-90)`)
    .attr("font-size", 20).attr("text-anchor", "middle")
    .text("Modulus(Pa)");
  const tt = g.append("text")
    .attr("transform", `translate(${p.tanTitleX + 7},${yc}) rotate(-90)`)
    .attr("font-size", 20).attr("text-anchor", "middle");
  tt.append("tspan").text("Tan ");
  tt.append("tspan").attr("font-style", "italic").text("\u03b4");
  label(g, p.tagPos[0], p.tagPos[1], p.tag, 20, "start");

  // marker geometry for this panel
  const k = p.mark;
  const tri = `M0,${-4.9 * k}L${4.9 * k},${4.3 * k}L${-4.9 * k},${4.3 * k}Z`;

  // modulus markers
  g.append("g").selectAll("ellipse").data(p.modulus).join("ellipse")
    .attr("cx", d => x(d[0])).attr("cy", d => yMod(d[1]))
    .attr("rx", 4.3 * k).attr("ry", 5.1 * k)
    .attr("fill", "none").attr("stroke", INK).attr("stroke-width", p.stroke);

  // tan delta markers
  g.append("g").selectAll("path").data(p.tanDelta).join("path")
    .attr("d", tri)
    .attr("transform", d => `translate(${x(d[0])},${yTan(d[1])})`)
    .attr("fill", "none").attr("stroke", INK).attr("stroke-width", p.stroke);

  // legend
  const L = p.legend;
  const lg = g.append("g");
  lg.append("rect").attr("x", L.x).attr("y", L.y).attr("width", L.w).attr("height", L.h)
    .attr("fill", "#fff").attr("stroke", "#555").attr("stroke-width", 1);
  lg.append("ellipse").attr("cx", L.x + 7).attr("cy", L.y + L.r1)
    .attr("rx", 3.3).attr("ry", 4.6).attr("fill", "none").attr("stroke", INK).attr("stroke-width", 0.8);
  label(lg, L.x + 11.5, L.y + L.r1, "Modulus", 12.5, "start", 0.88);
  lg.append("path").attr("d", TRI_SMALL)
    .attr("transform", `translate(${L.x + 7},${L.y + L.r2})`)
    .attr("fill", "none").attr("stroke", INK).attr("stroke-width", 0.8);
  label(lg, L.x + 11.5, L.y + L.r2, "Tan delta", 12.5, "start", 0.88);
});
</script>
</body>
</html>
